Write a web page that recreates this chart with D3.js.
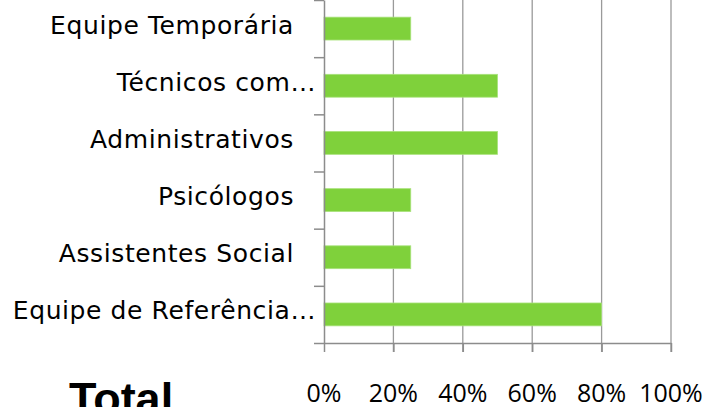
<!DOCTYPE html>
<html>
<head>
<meta charset="utf-8">
<script src="https://cdn.jsdelivr.net/npm/d3@7"></script>
<style>
  body { margin: 0; background: #fff; }
  svg { display: block; }
  .cat { font-family: 'DejaVu Sans', sans-serif; font-size: 25px; letter-spacing: 0.6px; fill: #000; }
  .tick-label { font-family: 'Open Sans', sans-serif; font-size: 25px; fill: #000; }
  .title { font-family: 'Liberation Sans', Arial, sans-serif; font-weight: bold; font-size: 45px; fill: #000; }
</style>
</head>
<body>
<svg id="chart"></svg>
<script>
// data, top to bottom
const categories = ['Equipe Temporária', 'Técnicos com…', 'Administrativos', 'Psicólogos', 'Assistentes Social', 'Equipe de Referência…'];
const values = [0.25, 0.5, 0.5, 0.25, 0.25, 0.8];
const xTicks = [0, 0.2, 0.4, 0.6, 0.8, 1];
const xTickLabels = ['0%', '20%', '40%', '60%', '80%', '100%'];
const title = 'Total';

const width = 710;
const height = 407;
const margin = { top: 0, right: 39, bottom: 64, left: 324 };

const chart = d3.select('#chart').attr('width', width).attr('height', height);

const xScale = d3.scaleLinear()
  .domain([0, 1])
  .range([margin.left, width - margin.right]);

const yScale = d3.scaleBand()
  .domain(categories)
  .range([margin.top, height - margin.bottom])
  .padding(0);

const axisColor = '#8c8c8c';
const gridColor = '#9a9a9a';

// gridlines (run down through the tick marks)
chart.append('g')
  .attr('class', 'grid')
  .selectAll('line')
  .data(xTicks.slice(1))
  .join('line')
  .attr('x1', (d) => xScale(d))
  .attr('x2', (d) => xScale(d))
  .attr('y1', margin.top)
  .attr('y2', height - margin.bottom + 9)
  .style('stroke', gridColor)
  .style('stroke-width', 1.3);

// bars
const barH = yScale.bandwidth() * 0.4;
chart.append('g')
  .attr('class', 'bars')
  .selectAll('rect')
  .data(categories)
  .join('rect')
  .attr('x', xScale(0))
  .attr('y', (d) => yScale(d) + (yScale.bandwidth() - barH) / 2)
  .attr('width', (d, i) => xScale(values[i]) - xScale(0))
  .attr('height', barH)
  .attr('fill', '#7fd13b')
  .style('stroke', '#a9e27c')
  .style('stroke-width', 0.8);

// x axis
const xAxis = (g) =>
  g.attr('transform', `translate(0,${height - margin.bottom})`)
    .call(d3.axisBottom(xScale).tickValues(xTicks).tickSize(9).tickSizeOuter(0));
chart.append('g').attr('class', 'x-axis axis').call(xAxis);

// y axis, ticks sit on the band edges
const plotH = height - margin.bottom - margin.top;
const yEdges = categories.map((c) => (yScale(c) - margin.top) / plotH).concat([1]);
const yAxis = (g) =>
  g.attr('transform', `translate(${margin.left},0)`)
    .call(d3.axisLeft(d3.scaleLinear().domain([0, 1]).range([margin.top, height - margin.bottom]))
      .tickValues(yEdges)
      .tickSize(10)
      .tickSizeOuter(0));
chart.append('g').attr('class', 'y-axis axis').call(yAxis);

chart.selectAll('.axis path, .axis line')
  .style('stroke', axisColor)
  .style('stroke-width', 1.5);
chart.selectAll('.axis').selectAll('text').remove();

// x tick labels
chart.append('g')
  .selectAll('text')
  .data(xTicks)
  .join('text')
  .attr('class', 'tick-label')
  .attr('x', (d) => xScale(d))
  .attr('y', 401.5)
  .attr('text-anchor', 'middle')
  .text((d, i) => xTickLabels[i]);

// category labels (truncated ones run closer to the axis)
chart.append('g')
  .selectAll('text')
  .data(categories)
  .join('text')
  .attr('class', 'cat')
  .attr('x', (d) => (d.endsWith('…') ? margin.left - 8 : margin.left - 30))
  .attr('y', (d) => yScale(d) + yScale.bandwidth() / 2 + 5)
  .attr('text-anchor', 'end')
  .text((d) => d);

// title, cut by the bottom edge as in the original
chart.append('text')
  .attr('class', 'title')
  .attr('x', 69)
  .attr('y', 414)
  .text(title);
</script>
</body>
</html>
